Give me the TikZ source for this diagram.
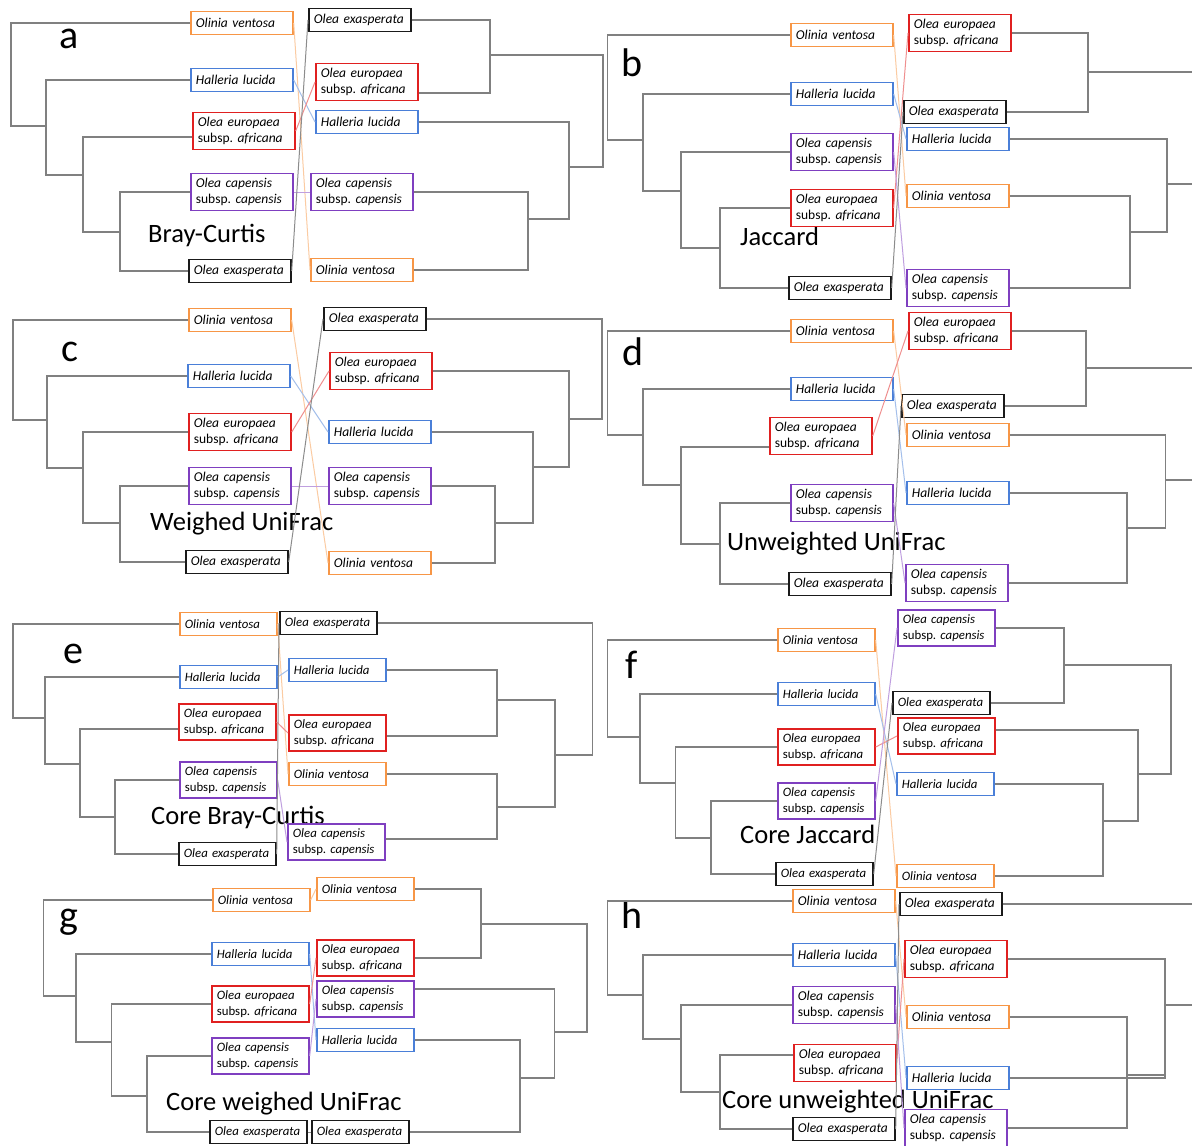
\documentclass[tikz,border=0pt]{standalone}
\usepackage{fontspec}
\setmainfont{Carlito}
\usepackage{tikz}
\definecolor{ovcol}{HTML}{F79646}
\definecolor{hlcol}{HTML}{4A7FD8}
\definecolor{oacol}{HTML}{E02020}
\definecolor{occol}{HTML}{7F3FC0}
\definecolor{oecol}{HTML}{1A1A1A}
\definecolor{treecol}{HTML}{808080}

\newcommand{\spOV}{Olinia ventosa}
\newcommand{\spHL}{Halleria lucida}
\newcommand{\spOA}{Olea europaea\\\textup{subsp.}\ africana}
\newcommand{\spOC}{Olea capensis\\\textup{subsp.}\ capensis}
\newcommand{\spOE}{Olea exasperata}
\hyphenpenalty=10000
\lefthyphenmin=62

\begin{document}
\begin{tikzpicture}[x=1pt, y=-1pt,
  tree/.style={draw=treecol, line width=1.5pt},
  taxon/.style={draw=#1, line width=1.7pt, fill=white, anchor=west, inner xsep=5pt, inner ysep=4.5pt,
    minimum height=23pt, text width=92pt, align=left, font=\fontsize{13.5}{16.7}\selectfont\itshape},
  taxonsm/.style={taxon=#1, text width=87pt, font=\fontsize{12.8}{15.5}\selectfont\itshape},
  link/.style={draw=#1!50, line width=1pt},
  panel/.style={anchor=base west, font=\fontsize{40}{40}\selectfont},
  metric/.style={anchor=base west, inner sep=0pt, font=\fontsize{26.5}{28}\selectfont}
]
  \fill[white] (0,0) rectangle (1192,1146);
  \useasboundingbox (0,0) rectangle (1192,1146);

  % a : Bray-Curtis
  \node[panel] (la) at (56,48) {a};
  \node[metric] (ta) at (148,242) {Bray-Curtis};
  \node[taxon=ovcol] (aLov) at (190,23) {\spOV};
  \node[taxon=hlcol] (aLhl) at (190,80) {\spHL};
  \node[taxon=oacol] (aLoa) at (192,131) {\spOA};
  \node[taxon=occol] (aLoc) at (190,192) {\spOC};
  \node[taxon=oecol] (aLoe) at (188,271) {\spOE};
  \node[taxon=oecol] (aRoe) at (308,20) {\spOE};
  \node[taxon=oacol] (aRoa) at (315,82) {\spOA};
  \node[taxon=hlcol] (aRhl) at (315,122) {\spHL};
  \node[taxon=occol] (aRoc) at (310,192) {\spOC};
  \node[taxon=ovcol] (aRov) at (310,270) {\spOV};
  \draw[tree] (aLoc.west) -| (120,232) |- (aLoe.west);
  \draw[tree] (aLoa.west |- 0,137) -| (83,175) |- (120,232);
  \draw[tree] (aLhl.west) -| (46,126) |- (83,175);
  \draw[tree] (aLov.west) -| (11,126) -- (46,126);
  \draw[tree] (aRoe.east) -| (490,55) |- (aRoa.east |- 0,93);
  \draw[tree] (aRoc.east) -| (528,219) |- (aRov.east);
  \draw[tree] (aRhl.east) -| (569,167) |- (528,219);
  \draw[tree] (490,55) -| (603,167) -- (569,167);

  % b : Jaccard
  \node[panel] (lb) at (618,76) {b};
  \node[metric] (tb) at (740,245) {Jaccard};
  \node[taxon=ovcol] (bLov) at (790,35) {\spOV};
  \node[taxon=hlcol] (bLhl) at (790,94) {\spHL};
  \node[taxon=occol] (bLoc) at (790,152) {\spOC};
  \node[taxon=oacol] (bLoa) at (790,208) {\spOA};
  \node[taxon=oecol] (bLoe) at (788,288) {\spOE};
  \node[taxon=oacol] (bRoa) at (908,33) {\spOA};
  \node[taxon=oecol] (bRoe) at (903,112) {\spOE};
  \node[taxon=hlcol] (bRhl) at (906,139) {\spHL};
  \node[taxon=ovcol] (bRov) at (906,196) {\spOV};
  \node[taxon=occol] (bRoc) at (906,288) {\spOC};
  \draw[tree] (bLoa.west) -| (720,248) |- (bLoe.west);
  \draw[tree] (bLoc.west) -| (681,191) |- (720,248);
  \draw[tree] (bLhl.west) -| (643,140) |- (681,191);
  \draw[tree] (bLov.west) -| (607.5,140) -- (643,140);
  \draw[tree] (bRoa.east) -| (1088,72) |- (bRoe.east);
  \draw[tree] (1088,72) -- (1192,72);
  \draw[tree] (bRov.east) -| (1130,232) |- (bRoc.east);
  \draw[tree] (bRhl.east) -| (1167,184) |- (1130,232);
  \draw[tree] (1167,184) -- (1192,184);

  % c : Weighed UniFrac
  \node[panel] (lc) at (58,361) {c};
  \node[metric] (tc) at (150,530) {Weighed UniFrac};
  \node[taxon=ovcol] (cLov) at (188,320) {\spOV};
  \node[taxon=hlcol] (cLhl) at (187,376) {\spHL};
  \node[taxon=oacol] (cLoa) at (188,432) {\spOA};
  \node[taxon=occol] (cLoc) at (188,486) {\spOC};
  \node[taxon=oecol] (cLoe) at (185,562) {\spOE};
  \node[taxon=oecol] (cRoe) at (323,319) {\spOE};
  \node[taxon=oacol] (cRoa) at (329,371) {\spOA};
  \node[taxon=hlcol] (cRhl) at (328,432) {\spHL};
  \node[taxon=occol] (cRoc) at (328,486) {\spOC};
  \node[taxon=ovcol] (cRov) at (328,563) {\spOV};
  \draw[tree] (cLoc.west) -| (120,523) |- (cLoe.west);
  \draw[tree] (cLoa.west) -| (83,468) |- (120,523);
  \draw[tree] (cLhl.west) -| (47,420) |- (83,468);
  \draw[tree] (cLov.west) -| (13,420) -- (47,420);
  \draw[tree] (cRoc.east) -| (495,523) |- (cRov.east);
  \draw[tree] (cRhl.east) -| (533,467) |- (495,523);
  \draw[tree] (cRoa.east) -| (569,419) |- (533,467);
  \draw[tree] (cRoe.east) -| (602,419) -- (569,419);

  % d : Unweighted UniFrac
  \node[panel] (ld) at (619,365) {d};
  \node[metric] (td) at (727,550) {Unweighted UniFrac};
  \node[taxon=ovcol] (dLov) at (790,331) {\spOV};
  \node[taxon=hlcol] (dLhl) at (790,389) {\spHL};
  \node[taxon=oacol] (dLoa) at (769,436) {\spOA};
  \node[taxon=occol] (dLoc) at (790,503) {\spOC};
  \node[taxon=oecol] (dLoe) at (788,584) {\spOE};
  \node[taxon=oacol] (dRoa) at (908,331) {\spOA};
  \node[taxon=oecol] (dRoe) at (901,406) {\spOE};
  \node[taxon=ovcol] (dRov) at (906,435) {\spOV};
  \node[taxon=hlcol] (dRhl) at (906,493) {\spHL};
  \node[taxon=occol] (dRoc) at (905,583) {\spOC};
  \draw[tree] (dLoc.west) -| (720,544) |- (dLoe.west);
  \draw[tree] (dLoa.west |- 0,447) -| (681,485) |- (720,544);
  \draw[tree] (dLhl.west) -| (643,435) |- (681,485);
  \draw[tree] (dLov.west) -| (607.5,435) -- (643,435);
  \draw[tree] (dRoa.east) -| (1086,368) |- (dRoe.east);
  \draw[tree] (1086,368) -- (1192,368);
  \draw[tree] (dRhl.east) -| (1127,528) |- (dRoc.east);
  \draw[tree] (dRov.east) -| (1165.5,480) |- (1127,528);
  \draw[tree] (1165.5,480) -- (1192,480);

  % e : Core Bray-Curtis
  \node[panel] (le) at (60,663) {e};
  \node[metric] (te) at (151,824) {Core Bray-Curtis};
  \node[taxonsm=ovcol] (eLov) at (179,624) {\spOV};
  \node[taxonsm=hlcol] (eLhl) at (179,677) {\spHL};
  \node[taxonsm=oacol] (eLoa) at (178,722) {\spOA};
  \node[taxonsm=occol] (eLoc) at (179,780) {\spOC};
  \node[taxonsm=oecol] (eLoe) at (178,854) {\spOE};
  \node[taxonsm=oecol] (eRoe) at (279,623) {\spOE};
  \node[taxonsm=hlcol] (eRhl) at (288,670) {\spHL};
  \node[taxonsm=oacol] (eRoa) at (288,733) {\spOA};
  \node[taxonsm=ovcol] (eRov) at (288,774) {\spOV};
  \node[taxonsm=occol] (eRoc) at (287,842) {\spOC};
  \draw[tree] (eLoc.west) -| (115,817) |- (eLoe.west);
  \draw[tree] (eLoa.west |- 0,729) -| (80,764) |- (115,817);
  \draw[tree] (eLhl.west) -| (45,718) |- (80,764);
  \draw[tree] (eLov.west) -| (13,718) -- (45,718);
  \draw[tree] (eRhl.east) -| (497,700) |- (eRoa.east |- 0,736);
  \draw[tree] (eRov.east) -| (497,807) |- (eRoc.east |- 0,839);
  \draw[tree] (497,700) -| (555,755) |- (497,807);
  \draw[tree] (eRoe.east) -| (592.6,755) -- (555,755);

  % f : Core Jaccard
  \node[panel] (lf) at (622,678) {f};
  \node[metric] (tf) at (740,843) {Core Jaccard};
  \node[taxonsm=ovcol] (fLov) at (777,640) {\spOV};
  \node[taxonsm=hlcol] (fLhl) at (777,694) {\spHL};
  \node[taxonsm=oacol] (fLoa) at (777,747) {\spOA};
  \node[taxonsm=occol] (fLoc) at (777,801) {\spOC};
  \node[taxonsm=oecol] (fLoe) at (775,874) {\spOE};
  \node[taxonsm=occol] (fRoc) at (897,628) {\spOC};
  \node[taxonsm=oecol] (fRoe) at (892,703) {\spOE};
  \node[taxonsm=oacol] (fRoa) at (897,736) {\spOA};
  \node[taxonsm=hlcol] (fRhl) at (896,784) {\spHL};
  \node[taxonsm=ovcol] (fRov) at (896,876) {\spOV};
  \draw[tree] (fLoc.west) -| (711,838) |- (fLoe.west);
  \draw[tree] (fLoa.west) -| (675.5,783) |- (711,838);
  \draw[tree] (fLhl.west) -| (640,737) |- (675.5,783);
  \draw[tree] (fLov.west) -| (607.5,737) -- (640,737);
  \draw[tree] (fRoc.east) -| (1064,665) |- (fRoe.east);
  \draw[tree] (fRhl.east) -| (1103,821) |- (fRov.east);
  \draw[tree] (fRoa.east |- 0,730) -| (1138,774) |- (1103,821);
  \draw[tree] (1064,665) -| (1171,774) -- (1138,774);

  % g : Core weighed UniFrac
  \node[panel] (lg) at (56,928) {g};
  \node[metric] (tg) at (166,1110) {Core weighed UniFrac};
  \node[taxonsm=ovcol] (gLov) at (212,900) {\spOV};
  \node[taxonsm=hlcol] (gLhl) at (211,954) {\spHL};
  \node[taxonsm=oacol] (gLoa) at (211,1004) {\spOA};
  \node[taxonsm=occol] (gLoc) at (211,1056) {\spOC};
  \node[taxonsm=oecol] (gLoe) at (209,1132) {\spOE};
  \node[taxonsm=ovcol] (gRov) at (316,889) {\spOV};
  \node[taxonsm=oacol] (gRoa) at (316,958) {\spOA};
  \node[taxonsm=occol] (gRoc) at (316,999) {\spOC};
  \node[taxonsm=hlcol] (gRhl) at (316,1040) {\spHL};
  \node[taxonsm=oecol] (gRoe) at (311,1132) {\spOE};
  \draw[tree] (gLoc.west) -| (147,1096) |- (gLoe.west);
  \draw[tree] (gLoa.west) -| (111.7,1042) |- (147,1096);
  \draw[tree] (gLhl.west) -| (76,996) |- (111.7,1042);
  \draw[tree] (gLov.west) -| (43.6,996) -- (76,996);
  \draw[tree] (gRov.east) -| (481,924) |- (gRoa.east);
  \draw[tree] (gRhl.east) -| (520,1078) |- (gRoe.east);
  \draw[tree] (gRoc.east |- 0,989) -| (554.5,1032) |- (520,1078);
  \draw[tree] (481,924) -| (587,1032) -- (554.5,1032);

  % h : Core unweighted UniFrac
  \node[panel] (lh) at (618,928) {h};
  \node[metric] (th) at (722,1108) {Core unweighted UniFrac};
  \node[taxon=ovcol] (hLov) at (792,901) {\spOV};
  \node[taxon=hlcol] (hLhl) at (792,955) {\spHL};
  \node[taxon=occol] (hLoc) at (792,1005) {\spOC};
  \node[taxon=oacol] (hLoa) at (793,1063) {\spOA};
  \node[taxon=oecol] (hLoe) at (792,1129) {\spOE};
  \node[taxon=oecol] (hRoe) at (899,904) {\spOE};
  \node[taxon=oacol] (hRoa) at (904,959) {\spOA};
  \node[taxon=ovcol] (hRov) at (906,1017) {\spOV};
  \node[taxon=hlcol] (hRhl) at (906,1078) {\spHL};
  \node[taxon=occol] (hRoc) at (904,1128) {\spOC};
  \draw[tree] (hLoa.west |- 0,1055) -| (720,1092) |- (hLoe.west);
  \draw[tree] (hLoc.west) -| (681,1039) |- (720,1092);
  \draw[tree] (hLhl.west) -| (643,995) |- (681,1039);
  \draw[tree] (hLov.west) -| (607.5,995) -- (643,995);
  \draw[tree] (hRoe.east) -- (1192,904);
  \draw[tree] (hRov.east) -| (1127,1075) |- (hRoc.east);
  \draw[tree] (hRoa.east) -| (1165,1005) |- (hRhl.east);
  \draw[tree] (1127,1075) -- (1165,1075);
  \draw[tree] (1165,1005) -- (1192,1005);

  % matching taxa across each pair of trees
  \foreach \p in {a,b,c,d,e,f,g,h}
    \foreach \s/\c in {ov/ovcol, hl/hlcol, oa/oacol, oc/occol, oe/oecol}
      \draw[link=\c] (\p L\s.east) -- (\p R\s.west);
\end{tikzpicture}
\end{document}
